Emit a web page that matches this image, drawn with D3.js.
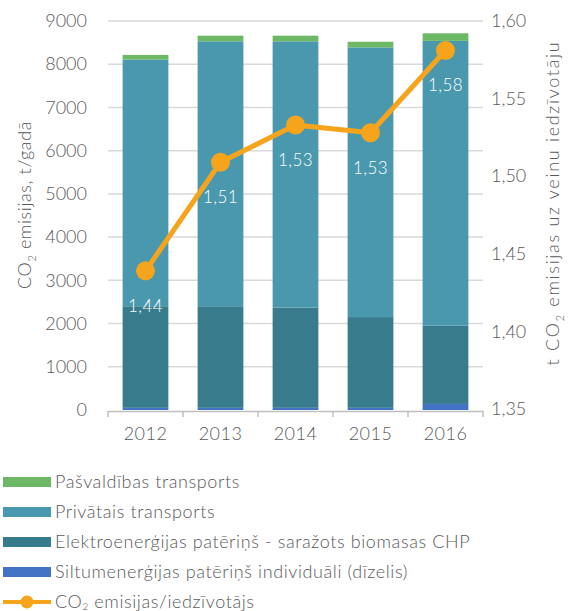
<!DOCTYPE html>
<html>
<head>
<meta charset="utf-8">
<script src="https://cdn.jsdelivr.net/npm/d3@7"></script>
<style>
  body { margin: 0; background: #fff; }
  text { font-family: Lato, "Open Sans", sans-serif; font-weight: 300; fill: #595959; }
</style>
</head>
<body>
<div id="chart"></div>
<script>
const years = ["2012", "2013", "2014", "2015", "2016"];
const siltum = [50, 50, 50, 50, 140];
const elektro = [2350, 2350, 2320, 2100, 1810];
const privatais = [5710, 6130, 6160, 6240, 6590];
const pasvaldibas = [105, 130, 130, 130, 175];
const perCapita = [1.44, 1.51, 1.53, 1.53, 1.58];
const perCapitaPos = [1.439, 1.509, 1.533, 1.528, 1.581];
const leftTicks = [0, 1000, 2000, 3000, 4000, 5000, 6000, 7000, 8000, 9000];
const rightTicks = [1.35, 1.40, 1.45, 1.50, 1.55, 1.60];
const seriesNames = ["Pašvaldības transports", "Privātais transports",
  "Elektroenerģijas patēriņš - saražots biomasas CHP",
  "Siltumenerģijas patēriņš individuāli (dīzelis)"];

const W = 575, H = 611;
const plot = { left: 108, right: 483, top: 21, bottom: 410 };
const colors = ["#6db865", "#4a98ae", "#377b8d", "#4472c4"];
const orange = "#f7a41d";

const svg = d3.select('#chart').append('svg')
  .attr('width', W)
  .attr('height', H);

const x = d3.scaleBand().domain(years).range([plot.left, plot.right]).paddingInner(0.39).paddingOuter(0.195);
const yL = d3.scaleLinear().domain([0, 9000]).range([plot.bottom, plot.top]);
const yR = d3.scaleLinear().domain([1.35, 1.60]).range([plot.bottom - 1, plot.top]);

// gridlines
svg.append('g')
  .selectAll('line')
  .data(leftTicks.slice(1))
  .join('line')
    .attr('x1', plot.left).attr('x2', plot.right)
    .attr('y1', d => yL(d)).attr('y2', d => yL(d))
    .attr('stroke', '#d9d9d9')
    .attr('stroke-width', 1.5);

// stacked bars
const rows = years.map((yr, i) => ({
  year: yr, s: siltum[i], e: elektro[i], p: privatais[i], v: pasvaldibas[i]
}));
const stack = d3.stack().keys(['s', 'e', 'p', 'v'])(rows);
const keyColor = { s: colors[3], e: colors[2], p: colors[1], v: colors[0] };

svg.append('g')
  .selectAll('g')
  .data(stack)
  .join('g')
    .attr('fill', d => keyColor[d.key])
  .selectAll('rect')
  .data(d => d)
  .join('rect')
    .attr('x', d => x(d.data.year))
    .attr('width', x.bandwidth())
    .attr('y', d => yL(d[1]))
    .attr('height', d => yL(d[0]) - yL(d[1]));

// x axis
const xAxis = svg.append('g')
  .attr('transform', `translate(0,${plot.bottom + 1})`)
  .call(d3.axisBottom(x).tickSize(0).tickPadding(16));
xAxis.select('.domain').attr('stroke', '#bfbfbf').attr('stroke-width', 1.5);
xAxis.selectAll('text').attr('font-size', 18).attr('fill', '#595959').attr('letter-spacing', 0.5);
xAxis.selectAll('.sep')
  .data(d3.range(years.length + 1))
  .join('line')
    .attr('x1', i => plot.left + i * x.step()).attr('x2', i => plot.left + i * x.step())
    .attr('y1', 0).attr('y2', 6)
    .attr('stroke', '#bfbfbf').attr('stroke-width', 1.5);

// left axis
const lAxis = svg.append('g')
  .attr('transform', `translate(${plot.left},0)`)
  .call(d3.axisLeft(yL).tickValues(leftTicks).tickSize(0).tickPadding(21).tickFormat(d3.format('d')));
lAxis.select('.domain').remove();
lAxis.selectAll('text').attr('font-size', 18).attr('fill', '#595959');

// right axis
const rAxis = svg.append('g')
  .attr('transform', `translate(${plot.right},0)`)
  .call(d3.axisRight(yR).tickValues(rightTicks).tickSize(0).tickPadding(8)
    .tickFormat(d => d3.format('.2f')(d).replace('.', ',')));
rAxis.select('.domain').remove();
rAxis.selectAll('text').attr('font-size', 18).attr('fill', '#595959');

// axis titles
const lt = svg.append('text')
  .attr('transform', 'translate(31,205) rotate(-90)')
  .attr('text-anchor', 'middle')
  .attr('font-size', 18)
  .attr('letter-spacing', 0.6);
lt.append('tspan').text('CO');
lt.append('tspan').text('2').attr('font-size', 11).attr('dy', 5);
lt.append('tspan').text(' emisijas, t/gadā').attr('dy', -5);

const rt = svg.append('text')
  .attr('transform', 'translate(559,203) rotate(-90)')
  .attr('text-anchor', 'middle')
  .attr('font-size', 18)
  .attr('letter-spacing', 1.7);
rt.append('tspan').text('t CO');
rt.append('tspan').text('2').attr('font-size', 11).attr('dy', 5);
rt.append('tspan').text(' emisijas uz veinu iedzīvotāju').attr('dy', -5);

// line
const cx = (d, i) => x(years[i]) + x.bandwidth() / 2;
svg.append('path')
  .datum(perCapitaPos)
  .attr('fill', 'none')
  .attr('stroke', orange)
  .attr('stroke-width', 5)
  .attr('stroke-linejoin', 'round')
  .attr('d', d3.line().x(cx).y(d => yR(d)));
svg.append('g')
  .selectAll('circle')
  .data(perCapitaPos)
  .join('circle')
    .attr('cx', cx)
    .attr('cy', d => yR(d))
    .attr('r', 9.5)
    .attr('fill', orange);
svg.append('g')
  .selectAll('text')
  .data(perCapita)
  .join('text')
    .attr('x', cx)
    .attr('y', (d, i) => yR(perCapitaPos[i]) + 41)
    .attr('text-anchor', 'middle')
    .attr('font-size', 17)
    .attr('letter-spacing', 0.4)
    .style('fill', '#ffffff')
    .text(d => d3.format('.2f')(d).replace('.', ','));

// legend
const legendY = 482, legendStep = 30;
const legend = svg.append('g');
seriesNames.forEach((name, i) => {
  const ly = legendY + i * legendStep;
  legend.append('rect')
    .attr('x', 3).attr('y', ly - 5)
    .attr('width', 48).attr('height', 10)
    .attr('fill', colors[i]);
  legend.append('text')
    .attr('x', 55).attr('y', ly + 6)
    .attr('font-size', 18)
    .attr('letter-spacing', 0.6)
    .text(name);
});
const lly = legendY + 4 * legendStep;
legend.append('line')
  .attr('x1', 3).attr('x2', 51)
  .attr('y1', lly).attr('y2', lly)
  .attr('stroke', orange).attr('stroke-width', 4);
legend.append('circle')
  .attr('cx', 27).attr('cy', lly).attr('r', 6.5)
  .attr('fill', orange);
const ltx = legend.append('text')
  .attr('x', 55).attr('y', lly + 6)
  .attr('font-size', 18)
  .attr('letter-spacing', 0.6);
ltx.append('tspan').text('CO');
ltx.append('tspan').text('2').attr('font-size', 10).attr('dy', 2);
ltx.append('tspan').text(' emisijas/iedzīvotājs').attr('dy', -2);
</script>
</body>
</html>
